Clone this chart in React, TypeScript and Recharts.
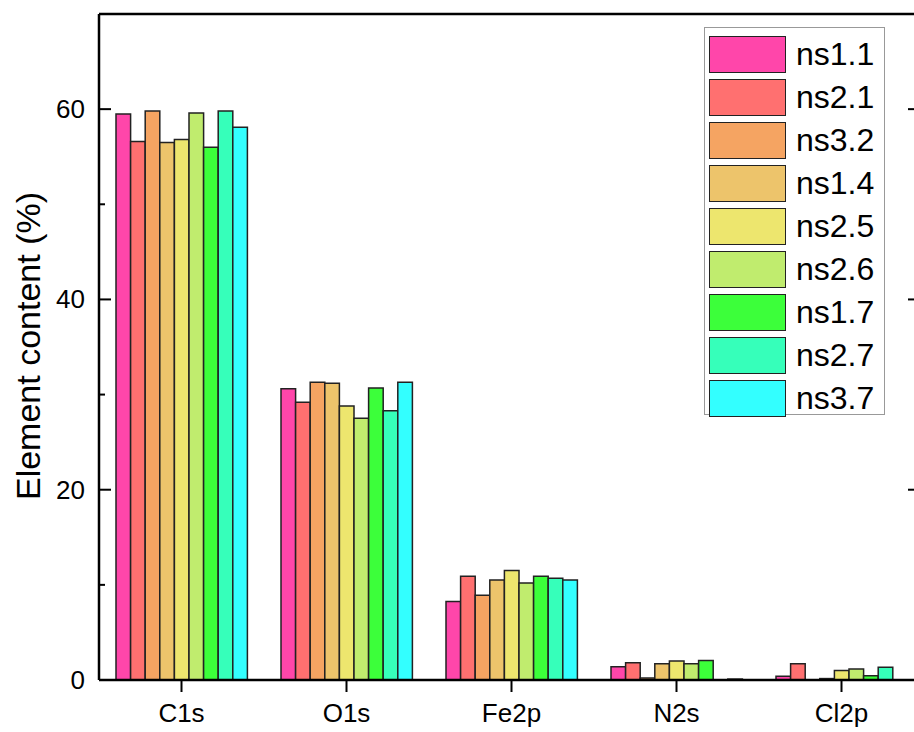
import React from 'react';
import { BarChart, Bar, XAxis, YAxis, Legend, ReferenceLine, Label } from 'recharts';

const categories = ['C1s', 'O1s', 'Fe2p', 'N2s', 'Cl2p'];
const seriesNames = ['ns1.1', 'ns2.1', 'ns3.2', 'ns1.4', 'ns2.5', 'ns2.6', 'ns1.7', 'ns2.7', 'ns3.7'];
const ns11 = [59.5, 30.6, 8.25, 1.4, 0.4];
const ns21 = [56.6, 29.2, 10.9, 1.8, 1.7];
const ns32 = [59.8, 31.3, 8.9, 0.2, 0];
const ns14 = [56.5, 31.2, 10.5, 1.7, 0.15];
const ns25 = [56.8, 28.8, 11.5, 2.0, 1.0];
const ns26 = [59.6, 27.5, 10.2, 1.7, 1.15];
const ns17 = [56.0, 30.7, 10.9, 2.05, 0.45];
const ns27 = [59.8, 28.3, 10.7, 0, 1.35];
const ns37 = [58.1, 31.3, 10.5, 0.1, 0];
const seriesValues = [ns11, ns21, ns32, ns14, ns25, ns26, ns17, ns27, ns37];
const colors = ['#FF46AA', '#FF7070', '#F5A462', '#EDC46B', '#EDE66E', '#C0EC6E', '#3CFF3A', '#36FFBA', '#33FFFF'];
const yTicks = [0, 10, 20, 30, 40, 50, 60, 70];

const CHART_W = 940;
const Y_AXIS_W = 99;
const RIGHT_MARGIN = 16;
const PLOT_RIGHT = CHART_W - RIGHT_MARGIN;

const data = categories.map((c, i) => {
  const row: any = { name: c };
  seriesNames.forEach((s, j) => {
    row[s] = seriesValues[j][i];
  });
  return row;
});

const FONT = '"Liberation Sans", Arial, sans-serif';

const LeftTick = (props: any) => {
  const { x, y, payload } = props;
  const v = payload.value;
  const major = v % 20 === 0;
  return (
    <g>
      <line x1={x} x2={x + (major ? 12 : 6)} y1={y} y2={y} stroke="#000" strokeWidth={2} />
      {major && v > 0 && v <= 60 && (
        <line x1={PLOT_RIGHT - 16} x2={PLOT_RIGHT} y1={y} y2={y} stroke="#000" strokeWidth={2} />
      )}
      {major && v <= 60 && (
        <text x={x - 14} y={y} textAnchor="end" dominantBaseline="central" fontSize={26} fontFamily={FONT} fill="#000">
          {v}
        </text>
      )}
    </g>
  );
};

const LegendContent = () => (
  <div
    style={{
      width: 181,
      height: 388,
      border: '1px solid #999',
      boxSizing: 'border-box',
      background: '#fff',
      paddingTop: 5,
      fontFamily: FONT,
    }}
  >
    {seriesNames.map((s, i) => (
      <div key={s} style={{ display: 'flex', alignItems: 'center', height: 43, marginLeft: 4 }}>
        <div
          style={{
            width: 77,
            height: 37,
            background: colors[i],
            border: '1.5px solid #222',
            boxSizing: 'border-box',
          }}
        />
        <span style={{ marginLeft: 10, fontSize: 32, color: '#000', lineHeight: '37px' }}>{s}</span>
      </div>
    ))}
  </div>
);

export default function App() {
  return (
    <div style={{ position: 'fixed', left: 0, top: 0, width: 914, height: 732, overflow: 'hidden', background: '#fff' }}>
      <BarChart
        width={CHART_W}
        height={732}
        data={data}
        margin={{ top: 14, right: RIGHT_MARGIN, bottom: 0, left: 0 }}
        barCategoryGap="10%"
        barGap={0}
      >
        <XAxis
          dataKey="name"
          height={52}
          axisLine={{ stroke: '#000', strokeWidth: 2.5 }}
          tickLine={{ stroke: '#000', strokeWidth: 2 }}
          tickSize={12}
          tickMargin={12}
          tick={{ fontSize: 26, fill: '#000', fontFamily: FONT }}
        />
        <YAxis
          width={Y_AXIS_W}
          domain={[0, 70]}
          ticks={yTicks}
          interval={0}
          tickSize={0}
          tickMargin={0}
          tickLine={false}
          axisLine={{ stroke: '#000', strokeWidth: 2.5 }}
          tick={<LeftTick />}
        >
          <Label
            content={() => (
              <text
                x={28}
                y={346}
                transform="rotate(-90 28 346)"
                textAnchor="middle"
                dominantBaseline="central"
                fontSize={34}
                fontFamily={FONT}
                fill="#000"
              >
                Element content (%)
              </text>
            )}
          />
        </YAxis>
        <ReferenceLine y={70} stroke="#000" strokeWidth={2.5} ifOverflow="visible" />
        <Legend
          layout="vertical"
          align="center"
          verticalAlign="middle"
          content={<LegendContent />}
          wrapperStyle={{ position: 'absolute', left: 704, top: 27, width: 181, height: 388 }}
        />
        {seriesNames.map((s, i) => (
          <Bar
            key={s}
            dataKey={s}
            fill={colors[i]}
            stroke="#222"
            strokeWidth={1.5}
            barSize={14.6}
            isAnimationActive={false}
          />
        ))}
      </BarChart>
    </div>
  );
}
